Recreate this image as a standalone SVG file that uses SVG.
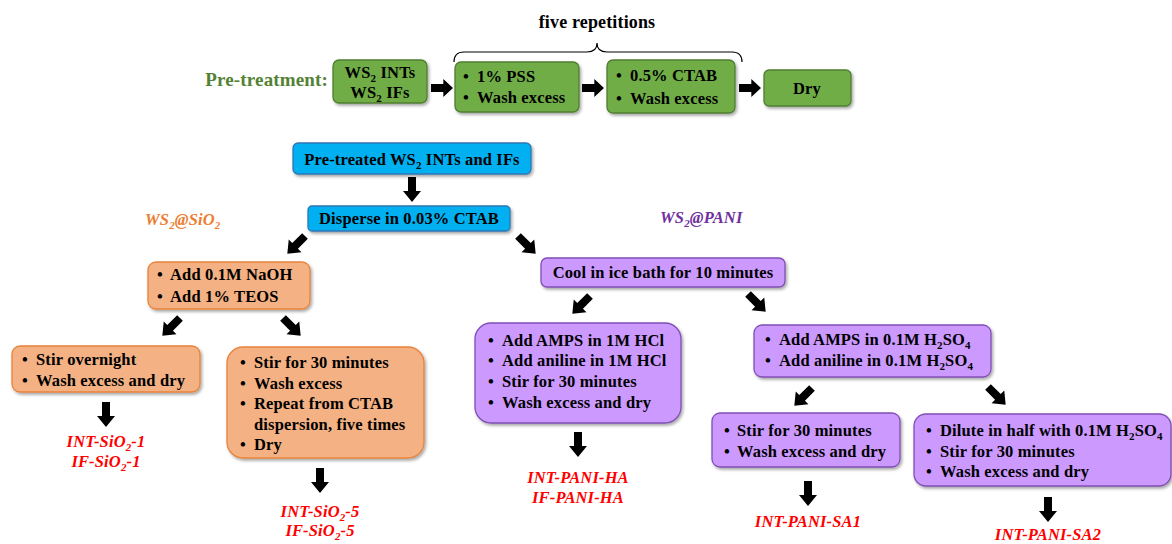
<svg xmlns="http://www.w3.org/2000/svg" width="1172" height="544" viewBox="0 0 1172 544">
<defs>
<filter id="sh" x="-10%" y="-20%" width="120%" height="140%"><feDropShadow dx="1.5" dy="2" stdDeviation="1.5" flood-color="#000" flood-opacity="0.35"/></filter>
<path id="arr" d="M-4,0 H4 V14 H9 L0,25 L-9,14 H-4 Z" fill="#000"/>
</defs>
<style>
text{font-family:"Liberation Serif","Times New Roman",serif;font-weight:bold;font-size:16.5px;letter-spacing:0.15px;fill:#000}
.g{fill:#70ad47;stroke:#507e32;stroke-width:1.3;filter:url(#sh)}
.b{fill:#00b0f0;stroke:#2e75b6;stroke-width:1.3;filter:url(#sh)}
.o{fill:#f4b183;stroke:#e7833b;stroke-width:1.3;filter:url(#sh)}
.p{fill:#cc99ff;stroke:#7f4fb5;stroke-width:1.3;filter:url(#sh)}
.c{text-anchor:middle}
.red{fill:#ff0000;font-style:italic;text-anchor:middle}
.lab{font-style:italic}
.s{font-size:11px}
</style>

<text x="597" y="28" class="c" style="font-size:18px">five repetitions</text>
<text x="328" y="86" style="font-size:19px;fill:#548235;text-anchor:end">Pre-treatment:</text>
<path d="M454,62 Q454,52 464,52 L587,52 Q597,52 597,43 Q597,52 607,52 L732,52 Q742,52 742,62" fill="none" stroke="#000" stroke-width="1.2"/>

<g id="n-ws2"><rect class="g" x="333" y="60" width="94" height="43" rx="6"/>
<text x="380" y="78" class="c">WS<tspan class="s" dy="4">2</tspan><tspan dy="-4"> INTs</tspan></text>
<text x="380" y="98" class="c">WS<tspan class="s" dy="4">2</tspan><tspan dy="-4"> IFs</tspan></text></g>
<g id="n-pss"><rect class="g" x="455" y="62" width="124" height="50" rx="6"/>
<text x="463" y="82">•</text><text x="477" y="82">1% PSS</text>
<text x="463" y="103">•</text><text x="477" y="103">Wash excess</text></g>
<g id="n-ctab"><rect class="g" x="607" y="60" width="128" height="53" rx="6"/>
<text x="616" y="81">•</text><text x="630" y="81">0.5% CTAB</text>
<text x="616" y="104">•</text><text x="630" y="104">Wash excess</text></g>
<g id="n-dry"><rect class="g" x="764" y="70" width="87" height="36" rx="5"/>
<text x="807" y="94" class="c">Dry</text></g>

<g id="n-pretreated"><rect class="b" x="293" y="143" width="238" height="31" rx="5"/>
<text x="412" y="165" class="c">Pre-treated WS<tspan class="s" dy="4">2</tspan><tspan dy="-4"> INTs and IFs</tspan></text></g>
<g id="n-disperse"><rect class="b" x="308" y="206" width="202" height="25" rx="4"/>
<text x="409" y="224" class="c">Disperse in 0.03% CTAB</text></g>

<text x="145" y="225" class="lab" style="fill:#ed7d31">WS<tspan class="s" dy="4">2</tspan><tspan dy="-4">@SiO</tspan><tspan class="s" dy="4">2</tspan></text>
<text x="660" y="223" class="lab" style="fill:#7030a0">WS<tspan class="s" dy="4">2</tspan><tspan dy="-4">@PANI</tspan></text>

<g id="n-naoh"><rect class="o" x="148" y="262" width="162" height="47" rx="8"/>
<text x="157" y="280">•</text><text x="170" y="280">Add 0.1M NaOH</text>
<text x="157" y="302">•</text><text x="170" y="302">Add 1% TEOS</text></g>
<g id="n-cool"><rect class="p" x="541" y="258" width="244" height="29" rx="6"/>
<text x="663" y="278" class="c">Cool in ice bath for 10 minutes</text></g>

<g id="n-overnight"><rect class="o" x="12" y="346" width="188" height="46" rx="8"/>
<text x="22" y="365">•</text><text x="36" y="365">Stir overnight</text>
<text x="22" y="386">•</text><text x="36" y="386">Wash excess and dry</text></g>
<g id="n-stir5"><rect class="o" x="227" y="347" width="197" height="111" rx="16"/>
<text x="240" y="368">•</text><text x="254" y="368">Stir for 30 minutes</text>
<text x="240" y="389">•</text><text x="254" y="389">Wash excess</text>
<text x="240" y="409">•</text><text x="254" y="409">Repeat from CTAB</text>
<text x="254" y="430">dispersion, five times</text>
<text x="240" y="450">•</text><text x="254" y="450">Dry</text></g>

<text x="106" y="447" class="red">INT-SiO<tspan class="s" dy="4">2</tspan><tspan dy="-4">-1</tspan></text>
<text x="106" y="467" class="red">IF-SiO<tspan class="s" dy="4">2</tspan><tspan dy="-4">-1</tspan></text>
<text x="320" y="517" class="red">INT-SiO<tspan class="s" dy="4">2</tspan><tspan dy="-4">-5</tspan></text>
<text x="320" y="536" class="red">IF-SiO<tspan class="s" dy="4">2</tspan><tspan dy="-4">-5</tspan></text>

<g id="n-hcl"><rect class="p" x="475" y="323" width="206" height="100" rx="16"/>
<text x="488" y="346">•</text><text x="502" y="346">Add AMPS in 1M HCl</text>
<text x="488" y="366">•</text><text x="502" y="366">Add aniline in 1M HCl</text>
<text x="488" y="387">•</text><text x="502" y="387">Stir for 30 minutes</text>
<text x="488" y="408">•</text><text x="502" y="408">Wash excess and dry</text></g>
<g id="n-h2so4"><rect class="p" x="754" y="325" width="237" height="52" rx="8"/>
<text x="765" y="345">•</text><text x="779" y="345">Add AMPS in 0.1M H<tspan class="s" dy="4">2</tspan><tspan dy="-4">SO</tspan><tspan class="s" dy="4">4</tspan></text>
<text x="765" y="366">•</text><text x="779" y="366">Add aniline in 0.1M H<tspan class="s" dy="4">2</tspan><tspan dy="-4">SO</tspan><tspan class="s" dy="4">4</tspan></text></g>
<text x="578" y="483" class="red">INT-PANI-HA</text>
<text x="578" y="503" class="red">IF-PANI-HA</text>

<g id="n-sa1"><rect class="p" x="712" y="413" width="188" height="54" rx="8"/>
<text x="724" y="436">•</text><text x="737" y="436">Stir for 30 minutes</text>
<text x="724" y="457">•</text><text x="737" y="457">Wash excess and dry</text></g>
<g id="n-sa2"><rect class="p" x="914" y="414" width="257" height="72" rx="12"/>
<text x="926" y="436">•</text><text x="940" y="436">Dilute in half with 0.1M H<tspan class="s" dy="4">2</tspan><tspan dy="-4">SO</tspan><tspan class="s" dy="4">4</tspan></text>
<text x="926" y="457">•</text><text x="940" y="457">Stir for 30 minutes</text>
<text x="926" y="477">•</text><text x="940" y="477">Wash excess and dry</text></g>
<text x="808" y="527" class="red">INT-PANI-SA1</text>
<text x="1048" y="540" class="red">INT-PANI-SA2</text>

<g id="connectors">
<use href="#arr" transform="translate(431,88) rotate(-90) scale(1,0.88)"/>
<use href="#arr" transform="translate(582,88) rotate(-90) scale(1,0.88)"/>
<use href="#arr" transform="translate(739,88) rotate(-90) scale(1,0.88)"/>
<use href="#arr" transform="translate(412,177)"/>
<use href="#arr" transform="translate(106,402)"/>
<use href="#arr" transform="translate(320,468)"/>
<use href="#arr" transform="translate(578,432)"/>
<use href="#arr" transform="translate(808,481)"/>
<use href="#arr" transform="translate(1048,497)"/>
<use href="#arr" transform="translate(305,236) rotate(45)"/>
<use href="#arr" transform="translate(180,318) rotate(45)"/>
<use href="#arr" transform="translate(590,296) rotate(45)"/>
<use href="#arr" transform="translate(812,388) rotate(45)"/>
<use href="#arr" transform="translate(518,236) rotate(-45)"/>
<use href="#arr" transform="translate(283,318) rotate(-45)"/>
<use href="#arr" transform="translate(748,294) rotate(-45)"/>
<use href="#arr" transform="translate(988,387) rotate(-45)"/>
</g>
</svg>
